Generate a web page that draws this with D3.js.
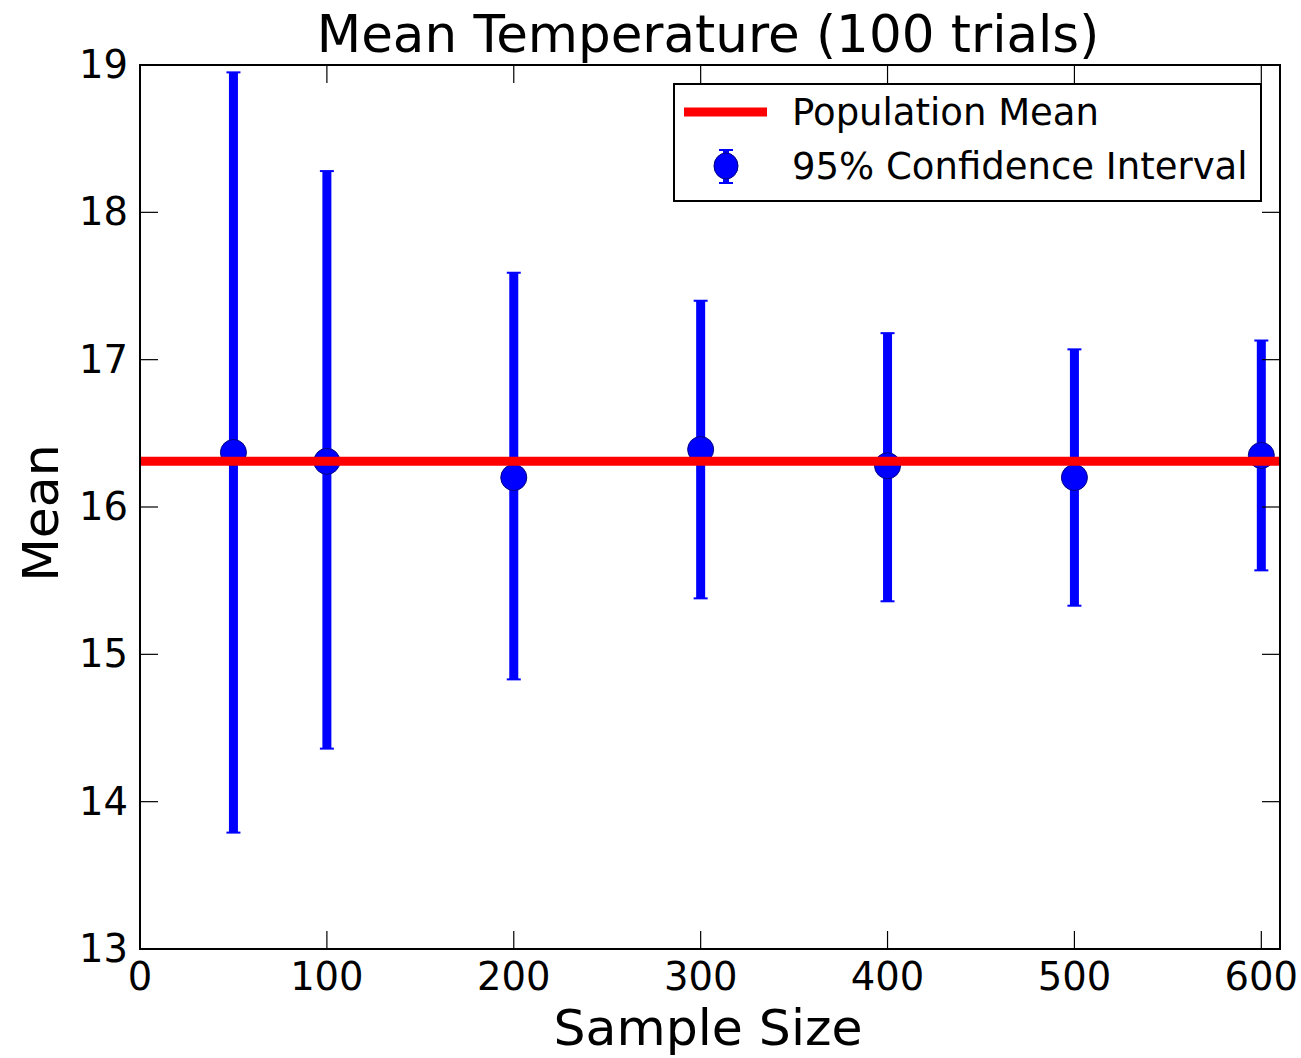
<!DOCTYPE html>
<html><head><meta charset="utf-8">
<script src="https://cdn.jsdelivr.net/npm/d3@7"></script>
<style>body{margin:0;background:#fff;} text{font-family:"DejaVu Sans",sans-serif;fill:#000;}</style>
</head><body>
<svg id="c" width="1301" height="1058"></svg>
<script>
const sampleSizes = [50, 100, 200, 300, 400, 500, 600];
const means =      [16.37, 16.31, 16.20, 16.39, 16.28, 16.20, 16.35];
const ciLow =      [13.79, 14.36, 14.83, 15.38, 15.36, 15.33, 15.57];
const ciHigh =     [18.95, 18.28, 17.59, 17.40, 17.18, 17.07, 17.13];
const populationMean = 16.31;
const xTicks = [0, 100, 200, 300, 400, 500, 600];
const yTicks = [13, 14, 15, 16, 17, 18, 19];
const title = "Mean Temperature (100 trials)";
const xLabel = "Sample Size", yLabel = "Mean";
const legendLabels = ["Population Mean", "95% Confidence Interval"];

const svg = d3.select("#c");
const L = 140, R = 1280, T = 65, B = 949;
const x = d3.scaleLinear().domain([0, 610]).range([L, R]);
const y = d3.scaleLinear().domain([13, 19]).range([B, T]);

// error bars
const g = svg.append("g");
sampleSizes.forEach((s, i) => {
  g.append("line").attr("x1", x(s)).attr("x2", x(s)).attr("y1", y(ciLow[i])).attr("y2", y(ciHigh[i]))
    .attr("stroke", "#0000ff").attr("stroke-width", 9);
  [ciLow[i], ciHigh[i]].forEach(v => g.append("line").attr("x1", x(s) - 7).attr("x2", x(s) + 7)
    .attr("y1", y(v)).attr("y2", y(v)).attr("stroke", "#0000ff").attr("stroke-width", 2));
  g.append("circle").attr("cx", x(s)).attr("cy", y(means[i])).attr("r", 13)
    .attr("fill", "#0000ff").attr("stroke", "#000080").attr("stroke-width", 1);
});

// population mean
svg.append("line").attr("x1", x(0)).attr("x2", x(610)).attr("y1", y(populationMean)).attr("y2", y(populationMean))
  .attr("stroke", "#ff0000").attr("stroke-width", 9);

// axes frame
const tl = 18;
const ax = svg.append("g").attr("stroke", "#000").attr("stroke-width", 2);
ax.append("rect").attr("x", L).attr("y", T).attr("width", R - L).attr("height", B - T).attr("fill", "none");
xTicks.forEach(t => {
  ax.append("line").attr("x1", x(t)).attr("x2", x(t)).attr("y1", B).attr("y2", B - tl).attr("stroke-width", 1.2);
  ax.append("line").attr("x1", x(t)).attr("x2", x(t)).attr("y1", T).attr("y2", T + tl).attr("stroke-width", 1.2);
});
yTicks.forEach(t => {
  ax.append("line").attr("x1", L).attr("x2", L + tl).attr("y1", y(t)).attr("y2", y(t)).attr("stroke-width", 1.2);
  ax.append("line").attr("x1", R).attr("x2", R - tl).attr("y1", y(t)).attr("y2", y(t)).attr("stroke-width", 1.2);
});
xTicks.forEach(t => svg.append("text").attr("x", x(t)).attr("y", 990).attr("text-anchor", "middle")
  .attr("font-size", 38.5).text(t));
yTicks.forEach(t => svg.append("text").attr("x", 128).attr("y", y(t) + 13).attr("text-anchor", "end")
  .attr("font-size", 38.5).text(t));

// titles
svg.append("text").attr("x", (L + R) / 2 - 2).attr("y", 52).attr("text-anchor", "middle").attr("font-size", 51.5).text(title);
svg.append("text").attr("x", (L + R) / 2 - 2).attr("y", 1045).attr("text-anchor", "middle").attr("font-size", 50.5).text(xLabel);
svg.append("text").attr("transform", `translate(58,${(T + B) / 2 + 6}) rotate(-90)`).attr("text-anchor", "middle")
  .attr("font-size", 50.5).text(yLabel);

// legend
const lg = svg.append("g");
lg.append("rect").attr("x", 674).attr("y", 84).attr("width", 587).attr("height", 117)
  .attr("fill", "#fff").attr("stroke", "#000").attr("stroke-width", 2);
lg.append("line").attr("x1", 684).attr("x2", 767).attr("y1", 112).attr("y2", 112).attr("stroke", "#ff0000").attr("stroke-width", 9);
lg.append("line").attr("x1", 726).attr("x2", 726).attr("y1", 150).attr("y2", 183).attr("stroke", "#0000ff").attr("stroke-width", 6);
[150, 183].forEach(v => lg.append("line").attr("x1", 719).attr("x2", 733).attr("y1", v).attr("y2", v).attr("stroke", "#0000ff").attr("stroke-width", 2));
lg.append("ellipse").attr("cx", 726).attr("cy", 166).attr("rx", 12).attr("ry", 13).attr("fill", "#0000ff").attr("stroke", "#000080");
lg.append("text").attr("x", 792).attr("y", 125).attr("font-size", 37).text(legendLabels[0]);
lg.append("text").attr("x", 792).attr("y", 179).attr("font-size", 37).text(legendLabels[1]);
</script>
</body></html>
